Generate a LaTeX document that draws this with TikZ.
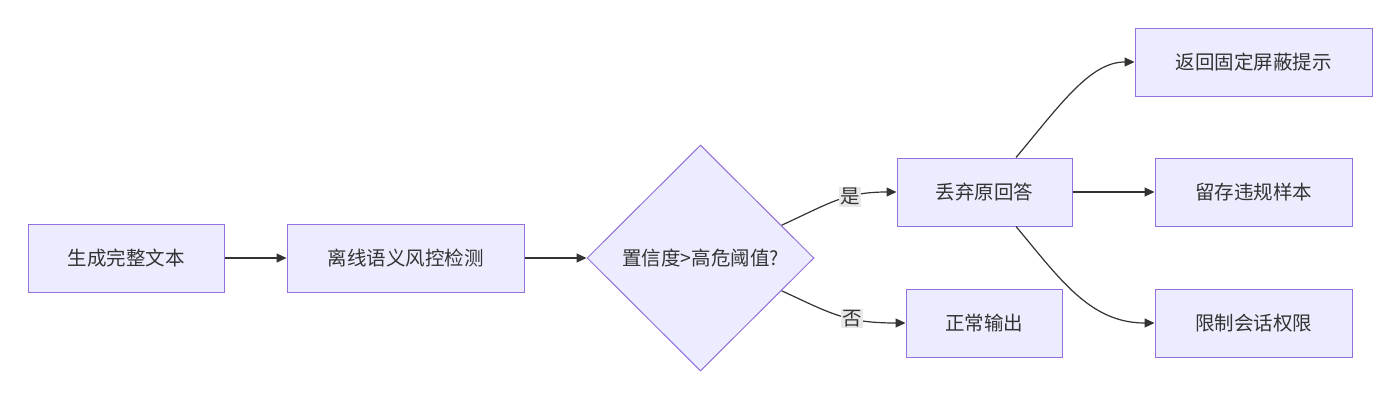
\documentclass[tikz,border=0pt]{standalone}
\usepackage{fontspec}
\newfontfamily\cjk{Noto Sans CJK SC}
\usetikzlibrary{shapes.geometric,arrows.meta}
\definecolor{nfill}{HTML}{ECECFF}
\definecolor{nstroke}{HTML}{9370DB}
\definecolor{edge}{HTML}{333333}
\definecolor{lblbg}{HTML}{E8E8E8}
\definecolor{txt}{HTML}{333333}
\begin{document}
\begin{tikzpicture}[x=1pt,y=-1pt,
  box/.style={draw=nstroke,fill=nfill,line width=1pt,minimum height=68pt,inner sep=0pt,font=\cjk\fontsize{19.5}{22}\selectfont,text=txt},
  dia/.style={diamond,draw=nstroke,fill=nfill,line width=1pt,minimum width=227pt,minimum height=226pt,inner sep=0pt,font=\cjk\fontsize{19.5}{22}\selectfont,text=txt},
  arr/.style={draw=edge,line width=1.2pt,-{Triangle[length=10pt,width=9pt]}},
  lab/.style={fill=lblbg,inner sep=1.5pt,font=\cjk\fontsize{19.5}{22}\selectfont,text=txt}]
\useasboundingbox (0,0) rectangle (1400,400);
\fill[white] (0,0) rectangle (1400,400);
\node[box,minimum width=196pt] (A) at (126,258) {生成完整文本};
\node[box,minimum width=237pt] (B) at (405.5,258) {离线语义风控检测};
\node[dia] (C) at (700.5,258) {置信度>高危阈值?};
\node[box,minimum width=175pt] (D) at (984.5,192) {丢弃原回答};
\node[box,minimum width=156pt] (E) at (984,323) {正常输出};
\node[box,minimum width=237pt] (F) at (1253.5,62) {返回固定屏蔽提示};
\node[box,minimum width=197pt] (G) at (1253.5,192) {留存违规样本};
\node[box,minimum width=197pt] (H) at (1253.5,323) {限制会话权限};
\draw[arr] (A) -- (B);
\draw[arr] (B) -- (C);
\draw[arr] (C.22.8) .. controls (830,203) and (845,192) .. node[pos=0.62,lab]{是} (D.west);
\draw[arr] (C.-22.8) .. controls (830,313) and (845,323) .. node[pos=0.62,lab]{否} (E.west);
\draw[arr] ([xshift=31.5pt]D.north) .. controls (1060,105) and (1090,62) .. (F.west);
\draw[arr] (D) -- (G);
\draw[arr] ([xshift=31.5pt]D.south) .. controls (1060,279) and (1090,323) .. (H.west);
\end{tikzpicture}
\end{document}
